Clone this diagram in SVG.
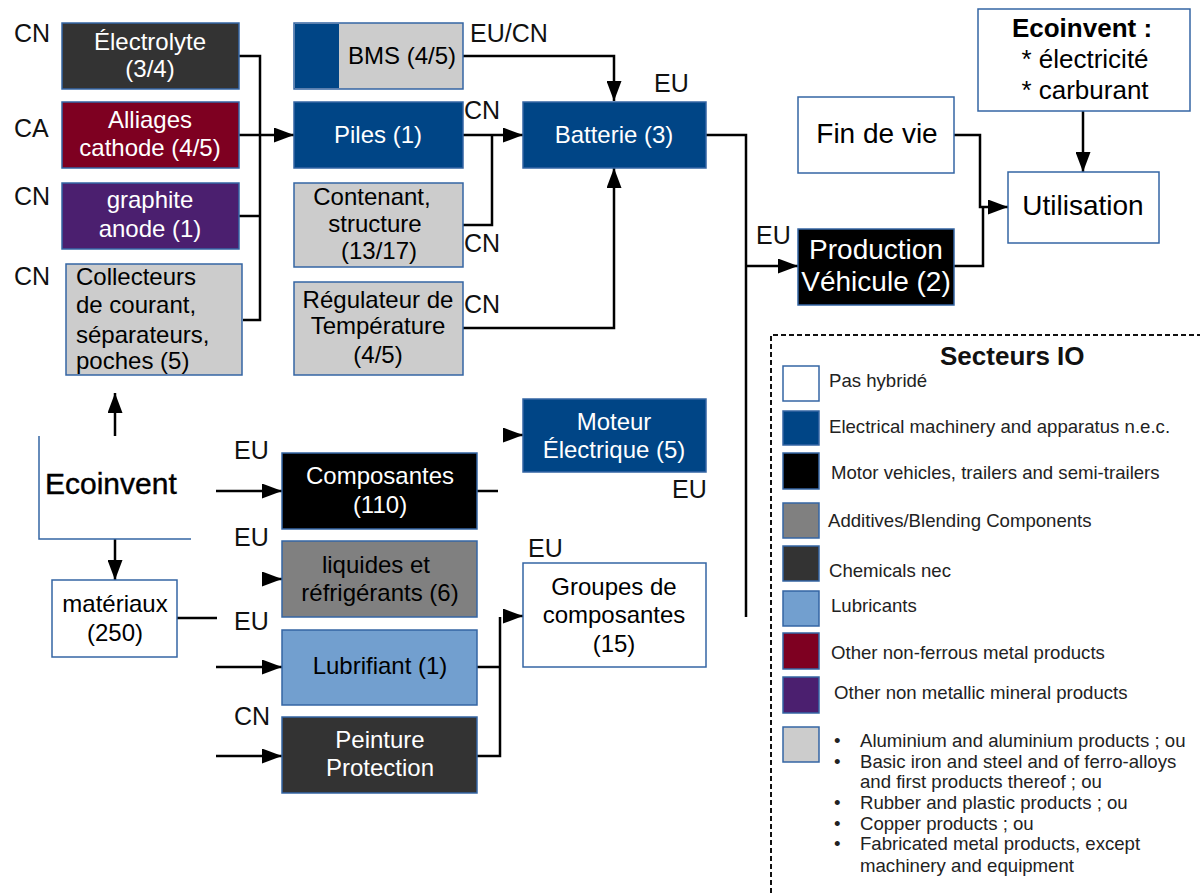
<svg xmlns="http://www.w3.org/2000/svg" width="1200" height="893" viewBox="0 0 1200 893">
  <defs>
    <marker id="arrow" viewBox="0 0 20 15" refX="20" refY="7.5" markerWidth="20" markerHeight="15" markerUnits="userSpaceOnUse" orient="auto">
      <path d="M0,0 L20,7.5 L0,15 Z" fill="#000"/>
    </marker>
    <style>
      text { font-family: "Liberation Sans", Arial, sans-serif; }
      .box { stroke: #3465a4; stroke-width: 1.5; }
      .t24 { font-size: 24px; text-anchor: middle; }
      .t28 { font-size: 28px; text-anchor: middle; }
      .w { fill: #ffffff; }
      .k { fill: #000000; }
      .lbl { font-size: 25px; fill: #111; }
      .conn { fill: none; stroke: #000; stroke-width: 2.5; }
      .leg { font-size: 18.6px; fill: #222; }
    </style>
  </defs>

  <rect width="1200" height="893" fill="#ffffff"/>

  <!-- connectors -->
  <g id="connectors" class="conn">
    <path d="M239,56 H260 V320 H243"/>
    <path d="M239,216 H260"/>
    <path d="M239,135 H294" marker-end="url(#arrow)"/>
    <path d="M463,56 H614 V101" marker-end="url(#arrow)"/>
    <path d="M463,135 H523" marker-end="url(#arrow)"/>
    <path d="M463,225 H492 V135"/>
    <path d="M463,328 H614 V168" marker-end="url(#arrow)"/>
    <path d="M706,135 H746 V617"/>
    <path d="M746,266 H798" marker-end="url(#arrow)"/>
    <path d="M954,135 H980 V207 H1008" marker-end="url(#arrow)"/>
    <path d="M954,266 H983 V207"/>
    <path d="M1083,111 V172" marker-end="url(#arrow)"/>
    <path d="M115,436 V393" marker-end="url(#arrow)"/>
    <path d="M115,539 V580" marker-end="url(#arrow)"/>
    <path d="M177,618 H217"/>
    <path d="M216,491 H282" marker-end="url(#arrow)"/>
    <path d="M216,667 H282" marker-end="url(#arrow)"/>
    <path d="M216,756 H282" marker-end="url(#arrow)"/>
    <path d="M264,579 H282" marker-end="url(#arrow)"/>
    <path d="M477,491 H498"/>
    <path d="M477,667 H500"/>
    <path d="M477,756 H500 V617"/>
    <path d="M504,616 H523" marker-end="url(#arrow)"/>
    <path d="M504,435 H523" marker-end="url(#arrow)"/>
  </g>

  <!-- origin labels -->
  <g id="labels">
    <text class="lbl" x="14" y="42">CN</text>
    <text class="lbl" x="14" y="137">CA</text>
    <text class="lbl" x="14" y="205">CN</text>
    <text class="lbl" x="14" y="285">CN</text>
    <text class="lbl" x="470" y="42">EU/CN</text>
    <text class="lbl" x="464" y="119">CN</text>
    <text class="lbl" x="654" y="92">EU</text>
    <text class="lbl" x="464" y="252">CN</text>
    <text class="lbl" x="464" y="313">CN</text>
    <text class="lbl" x="756" y="244">EU</text>
    <text class="lbl" x="234" y="459">EU</text>
    <text class="lbl" x="234" y="546">EU</text>
    <text class="lbl" x="234" y="630">EU</text>
    <text class="lbl" x="234" y="725">CN</text>
    <text class="lbl" x="672" y="498">EU</text>
    <text class="lbl" x="528" y="557">EU</text>
  </g>

  <g id="electrolyte">
    <rect class="box" x="62" y="23" width="177" height="66" fill="#333333"/>
    <text class="t24 w" x="150" y="50">Électrolyte</text>
    <text class="t24 w" x="150" y="77">(3/4)</text>
  </g>
  <g id="alliages">
    <rect class="box" x="62" y="102" width="177" height="66" fill="#7e0021"/>
    <text class="t24 w" x="150" y="128">Alliages</text>
    <text class="t24 w" x="150" y="156">cathode (4/5)</text>
  </g>
  <g id="graphite">
    <rect class="box" x="62" y="183" width="177" height="66" fill="#4b1f6f"/>
    <text class="t24 w" x="150" y="208">graphite</text>
    <text class="t24 w" x="150" y="237">anode (1)</text>
  </g>
  <g id="collecteurs">
    <rect class="box" x="66" y="264" width="176" height="111" fill="#cccccc"/>
    <text class="k" font-size="24" x="76" y="285">Collecteurs</text>
    <text class="k" font-size="24" x="76" y="313">de courant,</text>
    <text class="k" font-size="24" x="76" y="343">séparateurs,</text>
    <text class="k" font-size="24" x="76" y="369">poches (5)</text>
  </g>

  <g id="bms">
    <rect class="box" x="294" y="23" width="169" height="66" fill="#cccccc"/>
    <rect x="295" y="24" width="44" height="64" fill="#004586"/>
    <text class="t24 k" x="402" y="64">BMS (4/5)</text>
  </g>
  <g id="piles">
    <rect class="box" x="294" y="102" width="169" height="66" fill="#004586"/>
    <text class="t24 w" x="378" y="143">Piles (1)</text>
  </g>
  <g id="contenant">
    <rect class="box" x="294" y="183" width="169" height="84" fill="#cccccc"/>
    <text class="t24 k" x="372" y="205">Contenant,</text>
    <text class="t24 k" x="375" y="232">structure</text>
    <text class="t24 k" x="379" y="259">(13/17)</text>
  </g>
  <g id="regulateur">
    <rect class="box" x="294" y="282" width="169" height="93" fill="#cccccc"/>
    <text class="t24 k" x="378" y="308">Régulateur de</text>
    <text class="t24 k" x="378" y="334">Température</text>
    <text class="t24 k" x="378" y="363">(4/5)</text>
  </g>

  <g id="batterie">
    <rect class="box" x="523" y="102" width="183" height="66" fill="#004586"/>
    <text class="t24 w" x="614" y="143">Batterie (3)</text>
  </g>

  <g id="production">
    <rect class="box" x="798" y="229" width="156" height="76" fill="#000000"/>
    <text class="t28 w" x="876" y="259">Production</text>
    <text class="t28 w" x="876" y="291">Véhicule (2)</text>
  </g>
  <g id="fin-de-vie">
    <rect class="box" x="798" y="97" width="156" height="76" fill="#ffffff"/>
    <text class="t28 k" x="877" y="143">Fin de vie</text>
  </g>
  <g id="utilisation">
    <rect class="box" x="1008" y="172" width="151" height="71" fill="#ffffff"/>
    <text class="t28 k" x="1083" y="215">Utilisation</text>
  </g>
  <g id="ecoinvent-usage">
    <rect class="box" x="978" y="9" width="212" height="102" fill="#ffffff"/>
    <text class="k" font-size="26" font-weight="bold" text-anchor="middle" x="1082" y="37">Ecoinvent :</text>
    <text class="k" font-size="26" text-anchor="middle" x="1085" y="68">* électricité</text>
    <text class="k" font-size="26" text-anchor="middle" x="1085" y="99">* carburant</text>
  </g>

  <g id="ecoinvent">
    <path d="M39,436 V539 H191" fill="none" stroke="#3465a4" stroke-width="1.5"/>
    <text class="k" font-size="30" x="45" y="494" stroke="#000" stroke-width="0.4">Ecoinvent</text>
  </g>
  <g id="materiaux">
    <rect class="box" x="52" y="580" width="125" height="77" fill="#ffffff"/>
    <text class="t24 k" x="115" y="612">matériaux</text>
    <text class="t24 k" x="115" y="641">(250)</text>
  </g>

  <g id="composantes">
    <rect class="box" x="282" y="453" width="195" height="76" fill="#000000"/>
    <text class="t24 w" x="380" y="484">Composantes</text>
    <text class="t24 w" x="380" y="513">(110)</text>
  </g>
  <g id="liquides">
    <rect class="box" x="282" y="541" width="195" height="76" fill="#808080"/>
    <text class="t24 k" x="376" y="573">liquides et</text>
    <text class="t24 k" x="380" y="601">réfrigérants (6)</text>
  </g>
  <g id="lubrifiant">
    <rect class="box" x="282" y="630" width="195" height="75" fill="#729fcf"/>
    <text class="t24 k" x="380" y="674">Lubrifiant (1)</text>
  </g>
  <g id="peinture">
    <rect class="box" x="282" y="717" width="195" height="76" fill="#333333"/>
    <text class="t24 w" x="380" y="748">Peinture</text>
    <text class="t24 w" x="380" y="776">Protection</text>
  </g>

  <g id="moteur">
    <rect class="box" x="523" y="399" width="183" height="73" fill="#004586"/>
    <text class="t24 w" x="614" y="430">Moteur</text>
    <text class="t24 w" x="614" y="458">Électrique (5)</text>
  </g>
  <g id="groupes">
    <rect class="box" x="523" y="563" width="183" height="104" fill="#ffffff"/>
    <text class="t24 k" x="614" y="595">Groupes de</text>
    <text class="t24 k" x="614" y="623">composantes</text>
    <text class="t24 k" x="614" y="652">(15)</text>
  </g>

  <!-- legend of IO sectors -->
  <g id="legend">
    <path d="M771,893 V335 H1200" fill="none" stroke="#111" stroke-width="2" stroke-dasharray="5 3"/>
    <text font-size="26" font-weight="bold" fill="#111" x="940" y="365">Secteurs IO</text>
    <rect class="box" x="783" y="366" width="36" height="35" fill="#ffffff"/>
    <rect class="box" x="783" y="411" width="36" height="34" fill="#004586"/>
    <rect class="box" x="783" y="453" width="36" height="36" fill="#000000"/>
    <rect class="box" x="783" y="503" width="36" height="35" fill="#808080"/>
    <rect class="box" x="783" y="546" width="36" height="35" fill="#333333"/>
    <rect class="box" x="783" y="591" width="36" height="35" fill="#729fcf"/>
    <rect class="box" x="783" y="633" width="36" height="36" fill="#7e0021"/>
    <rect class="box" x="783" y="677" width="36" height="36" fill="#4b1f6f"/>
    <rect class="box" x="783" y="727" width="36" height="35" fill="#cccccc"/>
    <text class="leg" x="829" y="387">Pas hybridé</text>
    <text class="leg" x="829" y="433">Electrical machinery and apparatus n.e.c.</text>
    <text class="leg" x="831" y="479">Motor vehicles, trailers and semi-trailers</text>
    <text class="leg" x="828" y="527">Additives/Blending Components</text>
    <text class="leg" x="829" y="577">Chemicals nec</text>
    <text class="leg" x="831" y="612">Lubricants</text>
    <text class="leg" x="831" y="659">Other non-ferrous metal products</text>
    <text class="leg" x="834" y="699">Other non metallic mineral products</text>
    <g class="leg">
      <text x="834" y="747">•</text>
      <text x="860" y="747">Aluminium and aluminium products ; ou</text>
      <text x="834" y="768">•</text>
      <text x="860" y="768">Basic iron and steel and of ferro-alloys</text>
      <text x="860" y="788">and first products thereof ; ou</text>
      <text x="834" y="809">•</text>
      <text x="860" y="809">Rubber and plastic products ; ou</text>
      <text x="834" y="830">•</text>
      <text x="860" y="830">Copper products ; ou</text>
      <text x="834" y="850">•</text>
      <text x="860" y="850">Fabricated metal products, except</text>
      <text x="860" y="872">machinery and equipment</text>
    </g>
  </g>
</svg>
